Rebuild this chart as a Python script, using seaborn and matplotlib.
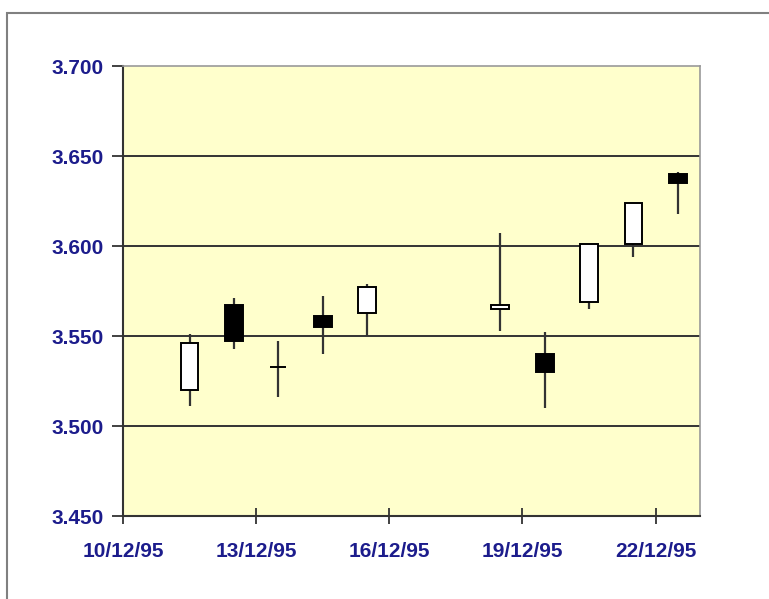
import matplotlib
matplotlib.use("Agg")
import matplotlib.pyplot as plt
from matplotlib.patches import Rectangle
import seaborn as sns

# daily prices, December 1995 (no weekend rows)
days = [11, 12, 13, 14, 15, 18, 19, 20, 21, 22]
open_ = [3.520, 3.567, 3.533, 3.561, 3.563, 3.565, 3.540, 3.569, 3.601, 3.640]
high = [3.551, 3.571, 3.547, 3.572, 3.579, 3.607, 3.552, 3.601, 3.624, 3.641]
low = [3.511, 3.543, 3.516, 3.540, 3.550, 3.553, 3.510, 3.565, 3.594, 3.618]
close = [3.546, 3.547, 3.533, 3.555, 3.577, 3.567, 3.530, 3.601, 3.624, 3.635]
tick_days = [10, 13, 16, 19, 22]
tick_labels = ["10/12/95", "13/12/95", "16/12/95", "19/12/95", "22/12/95"]
y_ticks = [3.45, 3.50, 3.55, 3.60, 3.65, 3.70]

sns.set_style("white")
plt.rcParams["font.family"] = ["Liberation Sans", "DejaVu Sans"]

fig = plt.figure(figsize=(7.69, 5.99), dpi=100)
ax = fig.add_axes([123 / 769, 1 - 516 / 599, 577 / 769, 450 / 599])
ax.set_facecolor("#FFFFCC")

# outer chart frame
fig.patches.append(Rectangle((7 / 769, -0.1), 2, 1.1 - 13 / 599, transform=fig.transFigure,
                             fill=False, edgecolor="#808080", lw=1.5))

for v in y_ticks[1:-1]:
    ax.axhline(v, color="#333333", lw=1.4, zorder=1)

xs = [d + 0.5 for d in days]
ax.vlines(xs, low, high, color="#333333", lw=1.6, zorder=2)
for x, o, c in zip(xs, open_, close):
    if o == c:
        ax.hlines(o, x - 0.18, x + 0.18, color="black", lw=1.4, zorder=3)
        continue
    fc = "white" if c > o else "black"
    ax.bar(x, abs(c - o), bottom=min(o, c), width=0.4, color=fc,
           edgecolor="black", lw=1.4, zorder=3)

ax.set_xlim(10, 23)
ax.set_ylim(3.45, 3.70)
ax.set_xticks(tick_days)
ax.set_xticklabels(tick_labels)
ax.set_yticks(y_ticks)
ax.set_yticklabels([f"{v:.3f}" for v in y_ticks])

for s in ["left", "bottom"]:
    ax.spines[s].set_color("#333333")
    ax.spines[s].set_linewidth(1.5)
for s in ["top", "right"]:
    ax.spines[s].set_color("#999999")
    ax.spines[s].set_linewidth(1.2)

ax.tick_params(axis="y", direction="out", length=8, width=1.3, color="#333333", pad=6,
               left=True)
ax.tick_params(axis="x", direction="inout", length=12, width=1.3, color="#333333", pad=13,
               bottom=True)
for lab in ax.get_xticklabels() + ax.get_yticklabels():
    lab.set_fontsize(15)
    lab.set_fontweight("bold")
    lab.set_color("#1C1C8C")

fig.savefig("out.png", dpi=100)
